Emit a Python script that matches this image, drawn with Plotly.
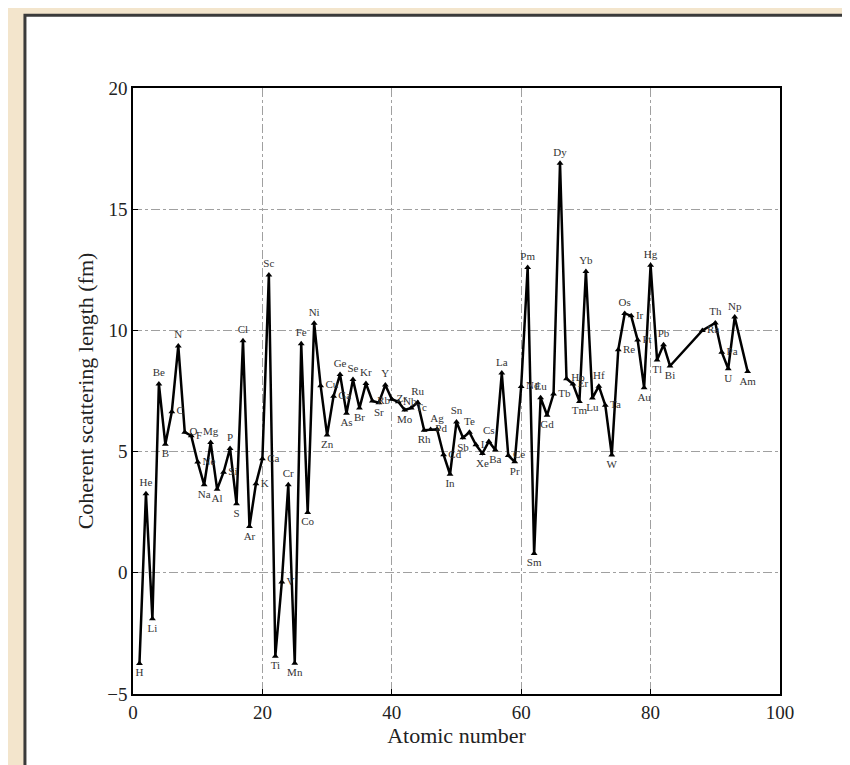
import plotly.graph_objects as go

atomic_number = [1, 2, 3, 4, 5, 6, 7, 8, 9, 10, 11, 12, 13, 14, 15, 16, 17, 18, 19, 20,
                 21, 22, 23, 24, 25, 26, 27, 28, 29, 30, 31, 32, 33, 34, 35, 36, 37, 38, 39, 40,
                 41, 42, 43, 44, 45, 46, 47, 48, 49, 50, 51, 52, 53, 54, 55, 56, 57, 58, 59, 60,
                 61, 62, 63, 64, 65, 66, 67, 68, 69, 70, 71, 72, 73, 74, 75, 76, 77, 78, 79, 80,
                 81, 82, 83, 88, 90, 91, 92, 93, 95]
symbols = ["H", "He", "Li", "Be", "B", "C", "N", "O", "F", "Ne", "Na", "Mg", "Al", "Si", "P", "S",
           "Cl", "Ar", "K", "Ca", "Sc", "Ti", "V", "Cr", "Mn", "Fe", "Co", "Ni", "Cu", "Zn", "Ga",
           "Ge", "As", "Se", "Br", "Kr", "Rb", "Sr", "Y", "Zr", "Nb", "Mo", "Tc", "Ru", "Rh", "Pd",
           "Ag", "Cd", "In", "Sn", "Sb", "Te", "I", "Xe", "Cs", "Ba", "La", "Ce", "Pr", "Nd", "Pm",
           "Sm", "Eu", "Gd", "Tb", "Dy", "Ho", "Er", "Tm", "Yb", "Lu", "Hf", "Ta", "W", "Re", "Os",
           "Ir", "Pt", "Au", "Hg", "Tl", "Pb", "Bi", "Ra", "Th", "Pa", "U", "Np", "Am"]
scattering_length = [-3.739, 3.26, -1.90, 7.79, 5.30, 6.646, 9.36, 5.803, 5.654, 4.566,
                     3.63, 5.375, 3.449, 4.149, 5.13, 2.847, 9.577, 1.909, 3.67, 4.70,
                     12.29, -3.438, -0.382, 3.635, -3.73, 9.45, 2.49, 10.3, 7.718, 5.68,
                     7.288, 8.185, 6.58, 7.97, 6.795, 7.81, 7.09, 7.02, 7.75, 7.16,
                     7.054, 6.715, 6.8, 7.03, 5.88, 5.91, 5.922, 4.87, 4.065, 6.225,
                     5.57, 5.80, 5.28, 4.92, 5.42, 5.07, 8.24, 4.84, 4.58, 7.69,
                     12.6, 0.80, 7.22, 6.5, 7.38, 16.9, 8.01, 7.79, 7.07, 12.43,
                     7.21, 7.7, 6.91, 4.86, 9.2, 10.7, 10.6, 9.60, 7.63, 12.692,
                     8.776, 9.405, 8.532, 10.0, 10.31, 9.1, 8.417, 10.55, 8.3]

x_ticks = [0, 20, 40, 60, 80, 100]
y_ticks = [-5, 0, 5, 10, 15, 20]

# label above local maxima, below local minima
positions = []
n = len(scattering_length)
for i, v in enumerate(scattering_length):
    prev_v = scattering_length[i - 1] if i > 0 else v + 1
    next_v = scattering_length[i + 1] if i < n - 1 else v + 1
    if v >= prev_v and v >= next_v:
        positions.append("top center")
    elif v <= prev_v and v <= next_v:
        positions.append("bottom center")
    else:
        positions.append("middle right")

serif = "Liberation Serif, DejaVu Serif, serif"

fig = go.Figure()
fig.add_trace(go.Scatter(
    x=atomic_number, y=scattering_length, text=symbols,
    mode="lines+markers+text",
    textposition=positions,
    textfont=dict(family=serif, size=11, color="#333333"),
    line=dict(color="black", width=2.5),
    marker=dict(symbol="triangle-up", size=6, color="black"),
    cliponaxis=False,
    showlegend=False,
))

axis_common = dict(
    showgrid=True, gridcolor="#a0a0a0", griddash="dashdot", gridwidth=1,
    showline=True, linecolor="black", linewidth=1.5, mirror=True,
    ticks="inside", ticklen=5, tickcolor="black",
    tickfont=dict(family=serif, size=19, color="#222222"),
    zeroline=False,
)

fig.update_xaxes(range=[0, 100], tickvals=x_ticks,
                 title=dict(text="Atomic number", font=dict(family=serif, size=22, color="#222222"), standoff=4),
                 **axis_common)
fig.update_yaxes(range=[-5, 20], tickvals=y_ticks,
                 title=dict(text="Coherent scattering length (fm)", font=dict(family=serif, size=22, color="#222222"), standoff=8),
                 **axis_common)

fig.add_shape(type="rect", xref="paper", yref="paper",
              x0=-0.167, x1=1.3, y0=-0.3, y1=1.12,
              line=dict(color="#3a3a3a", width=3), fillcolor="white", layer="below")

fig.update_layout(
    width=850, height=765,
    margin=dict(l=125, r=78, t=80, b=79),
    paper_bgcolor="#f3e5cc",
    plot_bgcolor="rgba(0,0,0,0)",
)

fig.write_html("out.html")
